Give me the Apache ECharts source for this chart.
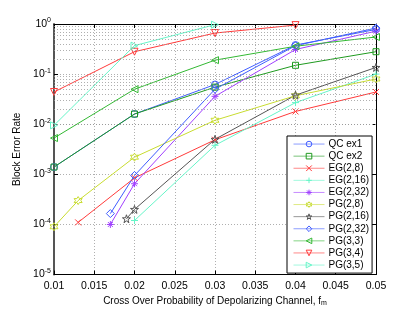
<!DOCTYPE html>
<html><head><meta charset="utf-8">
<script src="https://cdn.jsdelivr.net/npm/echarts@6/dist/echarts.min.js"></script>
<style>html,body{margin:0;padding:0;background:#fff}#c{width:415px;height:312px}</style>
</head><body><div id="c"></div>
<script>
const seriesNames = ['QC ex1','QC ex2','EG(2,8)','EG(2,16)','EG(2,32)','PG(2,8)','PG(2,16)','PG(2,32)','PG(3,3)','PG(3,4)','PG(3,5)'];
const xTicks = [0.01,0.015,0.02,0.025,0.03,0.035,0.04,0.045,0.05];
const yTickExps = [-5,-4,-3,-2,-1,0];

const qcEx1X = [0.01,0.02,0.03,0.04,0.05];
const qcEx1Y = [1.4e-3,0.016,0.062,0.38,0.78];
const qcEx2X = [0.01,0.02,0.03,0.04,0.05];
const qcEx2Y = [1.4e-3,0.016,0.055,0.15,0.28];
const eg28X = [0.013,0.02,0.03,0.04,0.05];
const eg28Y = [1.1e-4,8.5e-4,4.9e-3,0.018,0.044];
const eg216X = [0.02,0.03,0.04,0.05];
const eg216Y = [1.2e-4,3.8e-3,0.027,0.1];
const eg232X = [0.017,0.02,0.03,0.04,0.05];
const eg232Y = [1e-4,6.5e-4,0.036,0.31,0.72];
const pg28X = [0.01,0.013,0.02,0.03,0.04,0.05];
const pg28Y = [9e-5,3e-4,2.2e-3,0.012,0.037,0.08];
const pg216X = [0.019,0.02,0.03,0.04,0.05];
const pg216Y = [1.3e-4,2e-4,5e-3,0.038,0.136];
const pg232X = [0.017,0.02,0.03,0.04,0.05];
const pg232Y = [1.65e-4,9.5e-4,0.05,0.37,0.83];
const pg33X = [0.01,0.02,0.03,0.04,0.05];
const pg33Y = [5.3e-3,0.05,0.19,0.36,0.55];
const pg34X = [0.01,0.02,0.03,0.04];
const pg34Y = [0.044,0.28,0.66,0.95];
const pg35X = [0.01,0.02,0.03];
const pg35Y = [9.5e-3,0.37,0.97];

const colors = ['#3f5cff','#1f9a1f','#ff3a3a','#66f5c8','#a040ff','#c8dc30','#555555','#3f5cff','#33b833','#ff3a3a','#66f5c8'];
const S = {
  x:'path://M0,0L10,10M10,0L0,10',
  plus:'path://M5,0L5,10M0,5L10,5',
  ast:'path://M5,0L5,10M0,5L10,5M1.5,1.5L8.5,8.5M8.5,1.5L1.5,8.5',
  hexa:'path://M5,0L6.4,2.6L9.3,2.5L7.9,5L9.3,7.5L6.4,7.4L5,10L3.6,7.4L0.7,7.5L2.1,5L0.7,2.5L3.6,2.6Z',
  penta:'path://M5,0L6.2,3.6L10,3.6L6.9,5.9L8.1,9.5L5,7.3L1.9,9.5L3.1,5.9L0,3.6L3.8,3.6Z',
  tl:'path://M0,5L10,0L10,10Z',
  td:'path://M0,0L10,0L5,10Z',
  tr:'path://M10,5L0,0L0,10Z'
};
const symbols = ['circle','rect',S.x,S.plus,S.ast,S.hexa,S.penta,'diamond',S.tl,S.td,S.tr];
const sizes = [7,6,6,7,7,8,8,8,7,7,7];
const xs = [qcEx1X,qcEx2X,eg28X,eg216X,eg232X,pg28X,pg216X,pg232X,pg33X,pg34X,pg35X];
const ys = [qcEx1Y,qcEx2Y,eg28Y,eg216Y,eg232Y,pg28Y,pg216Y,pg232Y,pg33Y,pg34Y,pg35Y];

const minorVals = [];
for (let d=-5; d<0; d++) for (let k=2; k<10; k++) minorVals.push({yAxis: k*Math.pow(10,d)});

const series = seriesNames.map((n,i)=>({
  name:n, type:'line', data: xs[i].map((x,j)=>[x, ys[i][j]]),
  symbol: symbols[i], symbolSize: sizes[i], showAllSymbol:true,
  lineStyle:{color:colors[i], width:1},
  itemStyle:{color:'rgba(0,0,0,0)', borderColor:colors[i], borderWidth:1},
  emphasis:{disabled:true}, animation:false, z:3
}));
series.unshift({
  name:'_grid', type:'line', data:[], silent:true, z:1,
  markLine:{silent:true, symbol:['none','none'], label:{show:false}, animation:false,
    lineStyle:{color:'#9a9a9a', type:[1,2], width:0.8}, data:minorVals}
});

const legendData = seriesNames.map((n,i)=>({
  name:n,
  itemStyle:{color:'rgba(0,0,0,0)', borderColor:colors[i], borderWidth:1},
  lineStyle:{color:colors[i], width:1, opacity:0.6}
}));

const fmtExp = v => { const e = Math.round(Math.log10(v)); return '{b|10}{s|' + e + '}'; };
const F = 'Liberation Sans, Arial, sans-serif';
const chart = echarts.init(document.getElementById('c'), null, {renderer:'canvas'});
chart.setOption({
  animation:false,
  textStyle:{fontFamily:F},
  grid:{left:54, right:39, top:24, bottom:34, show:false},
  legend:{
    data: legendData, orient:'vertical', left:287, top:136,
    itemWidth:31, itemHeight:7, itemGap:0, padding:[2,3,2,6],
    backgroundColor:'#fff', borderColor:'#000', borderWidth:1,
    textStyle:{fontFamily:F, fontSize:10, color:'#000', lineHeight:12.1, padding:[0,0,0,-1]},
    selectedMode:false
  },
  xAxis:[{
    type:'value', min:0.01, max:0.05, interval:0.005, position:'bottom',
    name:'Cross Over Probability of Depolarizing Channel, {i|f}{sub|m}',
    nameLocation:'middle', nameGap:17,
    nameTextStyle:{fontFamily:F, fontSize:10, color:'#000', rich:{i:{fontSize:10, fontFamily:F}, sub:{fontSize:7, fontFamily:F, verticalAlign:'bottom', padding:[4,0,0,0]}}},
    axisLine:{show:true, lineStyle:{color:'#000', width:1}},
    axisTick:{show:true, inside:true, length:4, lineStyle:{color:'#000'}},
    axisLabel:{fontFamily:F, fontSize:10.5, color:'#000', margin:6, formatter:v=>String(+v.toFixed(3))},
    splitLine:{show:true, lineStyle:{color:'#9a9a9a', type:[1,2], width:0.8}}
  },{
    type:'value', min:0.01, max:0.05, interval:0.005, position:'top',
    axisLine:{show:true, lineStyle:{color:'#000', width:1}},
    axisTick:{show:true, inside:true, length:4, lineStyle:{color:'#000'}},
    axisLabel:{show:false}, splitLine:{show:false}
  }],
  yAxis:[{
    type:'log', logBase:10, min:1e-5, max:1, position:'left',
    name:'Block Error Rate', nameLocation:'middle', nameGap:28,
    nameTextStyle:{fontFamily:F, fontSize:10, color:'#000'},
    axisLine:{show:true, lineStyle:{color:'#555', width:2}},
    axisTick:{show:true, inside:true, length:4, lineStyle:{color:'#000'}},
    axisLabel:{fontFamily:F, color:'#000', margin:3, formatter:fmtExp,
      rich:{b:{fontSize:10.5, fontFamily:F, color:'#000'}, s:{fontSize:7, fontFamily:F, color:'#000', verticalAlign:'top', padding:[0,0,7,0]}}},
    splitLine:{show:true, lineStyle:{color:'#9a9a9a', type:[1,2], width:0.8}}
  },{
    type:'log', logBase:10, min:1e-5, max:1, position:'right',
    axisLine:{show:true, lineStyle:{color:'#000', width:1}},
    axisTick:{show:true, inside:true, length:4, lineStyle:{color:'#000'}},
    axisLabel:{show:false}, splitLine:{show:false}
  }],
  series: series
});
</script></body></html>
